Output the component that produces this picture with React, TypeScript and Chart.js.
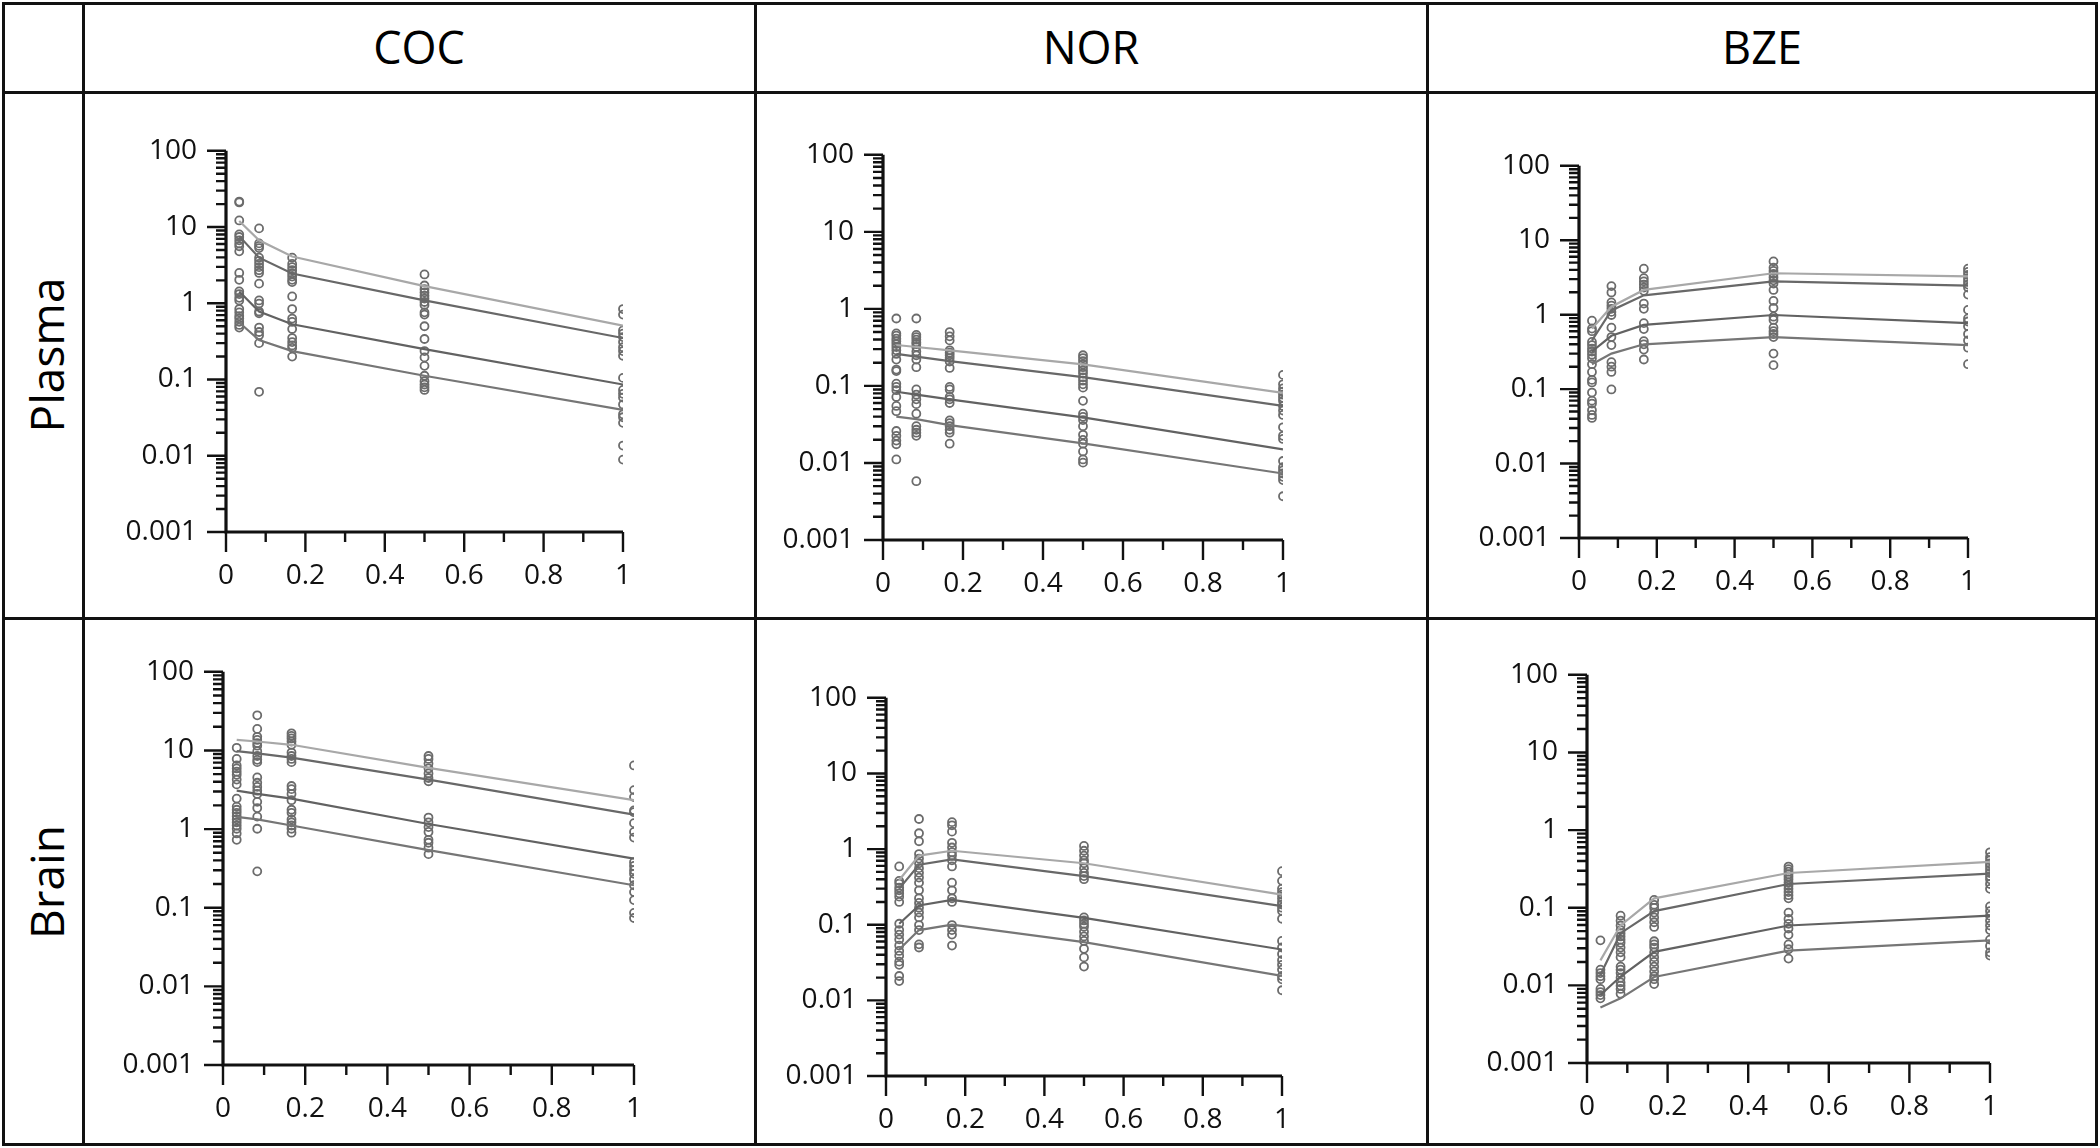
import React, { useEffect, useRef } from "react";
import { Chart, registerables } from "chart.js";
Chart.register(...registerables);

// ---------- data ----------
const TIMES = [2 / 60, 5 / 60, 10 / 60, 30 / 60, 60 / 60];
const X_LABEL_TICKS = [0, 0.2, 0.4, 0.6, 0.8, 1];
const X_MINOR_TICKS = [0.1, 0.3, 0.5, 0.7, 0.9];
const Y_LABEL_TICKS = [0.001, 0.01, 0.1, 1, 10, 100];
const Y_TICK_TEXT = ["0.001", "0.01", "0.1", "1", "10", "100"];
const COLUMN_TITLES = ["COC", "NOR", "BZE"];
const ROW_TITLES = ["Plasma", "Brain"];
const FIT_COLORS = ["#a8a8a8", "#686868", "#626262", "#767676"];

const COC_PLASMA_OBS = [
  [21.6, 21.0, 12.2, 8.0, 7.4, 6.7, 6.1, 5.6, 4.8, 2.5, 2.03, 1.43, 1.32, 1.18, 1.09, 0.84, 0.76, 0.68, 0.63, 0.57, 0.52, 0.48],
  [9.6, 6.1, 5.66, 5.3, 3.97, 3.61, 3.28, 2.98, 2.71, 2.5, 1.81, 1.09, 0.99, 0.78, 0.74, 0.48, 0.42, 0.38, 0.3, 0.069],
  [3.97, 3.28, 2.98, 2.71, 2.46, 2.24, 2.03, 1.9, 1.23, 0.84, 0.63, 0.57, 0.46, 0.35, 0.31, 0.28, 0.26, 0.2],
  [2.39, 1.71, 1.53, 1.39, 1.26, 1.15, 1.04, 0.95, 0.76, 0.71, 0.5, 0.34, 0.236, 0.195, 0.151, 0.112, 0.095, 0.086, 0.079, 0.073],
  [0.84, 0.71, 0.44, 0.4, 0.36, 0.31, 0.265, 0.236, 0.205, 0.105, 0.073, 0.065, 0.058, 0.047, 0.035, 0.032, 0.027, 0.0136, 0.0089],
];
const COC_PLASMA_FIT = [
  [12.0, 6.7, 4.1, 1.68, 0.51],
  [7.6, 3.97, 2.46, 1.09, 0.35],
  [1.43, 0.78, 0.53, 0.25, 0.086],
  [0.56, 0.33, 0.236, 0.112, 0.04],
];

const NOR_PLASMA_OBS = [
  [0.75, 0.48, 0.45, 0.41, 0.38, 0.35, 0.32, 0.29, 0.26, 0.22, 0.163, 0.156, 0.107, 0.097, 0.088, 0.072, 0.055, 0.047, 0.026, 0.0225, 0.0195, 0.0175, 0.0111],
  [0.75, 0.46, 0.43, 0.4, 0.37, 0.35, 0.32, 0.28, 0.25, 0.22, 0.175, 0.09, 0.077, 0.067, 0.058, 0.0436, 0.03, 0.027, 0.0247, 0.0225, 0.0058],
  [0.5, 0.44, 0.39, 0.29, 0.27, 0.25, 0.23, 0.207, 0.171, 0.097, 0.09, 0.072, 0.067, 0.06, 0.0357, 0.0328, 0.03, 0.027, 0.0247, 0.0178],
  [0.25, 0.23, 0.21, 0.19, 0.175, 0.159, 0.145, 0.129, 0.117, 0.105, 0.095, 0.064, 0.0436, 0.0397, 0.036, 0.03, 0.0232, 0.0199, 0.0178, 0.0141, 0.0111, 0.0101],
  [0.139, 0.105, 0.093, 0.084, 0.077, 0.07, 0.064, 0.055, 0.048, 0.042, 0.029, 0.0225, 0.0205, 0.0106, 0.0088, 0.008, 0.0073, 0.0066, 0.006, 0.0037],
];
const NOR_PLASMA_FIT = [
  [0.34, 0.32, 0.29, 0.19, 0.081],
  [0.26, 0.24, 0.21, 0.13, 0.055],
  [0.084, 0.077, 0.067, 0.039, 0.015],
  [0.04, 0.037, 0.031, 0.018, 0.0073],
];

const BZE_PLASMA_OBS = [
  [0.83, 0.65, 0.6, 0.43, 0.39, 0.35, 0.32, 0.29, 0.26, 0.216, 0.17, 0.133, 0.123, 0.09, 0.07, 0.064, 0.052, 0.045, 0.041],
  [2.42, 1.99, 1.46, 1.32, 1.2, 1.09, 0.99, 0.67, 0.5, 0.39, 0.23, 0.2, 0.17, 0.099],
  [4.15, 3.09, 2.8, 2.54, 2.31, 2.09, 1.41, 1.2, 0.77, 0.64, 0.44, 0.4, 0.34, 0.25],
  [5.2, 4.27, 3.87, 3.52, 3.19, 2.89, 2.62, 2.15, 1.53, 1.23, 0.94, 0.85, 0.67, 0.6, 0.55, 0.5, 0.3, 0.21],
  [4.15, 3.76, 3.41, 3.09, 2.8, 2.54, 2.31, 1.86, 1.16, 0.89, 0.81, 0.7, 0.55, 0.45, 0.36, 0.216],
];
const BZE_PLASMA_FIT = [
  [0.65, 1.28, 2.15, 3.6, 3.28],
  [0.45, 1.14, 1.82, 2.8, 2.45],
  [0.32, 0.52, 0.73, 0.99, 0.77],
  [0.216, 0.3, 0.4, 0.5, 0.39],
];

const COC_BRAIN_OBS = [
  [10.8, 7.8, 6.45, 5.9, 5.37, 4.9, 4.26, 3.7, 2.44, 1.93, 1.76, 1.61, 1.46, 1.33, 1.22, 1.11, 1.01, 0.88, 0.73],
  [28, 18.8, 14.9, 13.6, 12.4, 11.5, 9.8, 8.5, 7.6, 7.1, 4.54, 3.88, 3.44, 3.08, 2.8, 2.22, 1.85, 1.44, 1.01, 0.29],
  [16.5, 15.3, 14.2, 13.0, 11.8, 9.4, 8.5, 7.8, 7.1, 3.53, 3.22, 2.8, 2.33, 1.76, 1.61, 1.33, 1.22, 1.11, 1.01, 0.9],
  [8.5, 7.8, 6.8, 5.9, 5.1, 4.46, 4.06, 1.4, 1.22, 1.06, 0.92, 0.73, 0.67, 0.58, 0.48],
  [6.45, 3.13, 2.55, 1.73, 1.64, 1.19, 0.92, 0.78, 0.38, 0.34, 0.3, 0.27, 0.23, 0.193, 0.158, 0.125, 0.086, 0.074],
];
const COC_BRAIN_FIT = [
  [13.6, 13.0, 11.8, 6.0, 2.33],
  [9.8, 9.2, 8.1, 4.26, 1.53],
  [3.08, 2.8, 2.44, 1.16, 0.42],
  [1.43, 1.33, 1.11, 0.54, 0.193],
];

const NOR_BRAIN_OBS = [
  [0.59, 0.38, 0.35, 0.31, 0.285, 0.26, 0.235, 0.2, 0.103, 0.085, 0.074, 0.064, 0.053, 0.045, 0.039, 0.0325, 0.0295, 0.021, 0.018],
  [2.5, 1.62, 1.27, 0.86, 0.75, 0.65, 0.56, 0.485, 0.42, 0.36, 0.285, 0.224, 0.194, 0.168, 0.145, 0.125, 0.099, 0.085, 0.055, 0.05],
  [2.27, 2.06, 1.7, 1.21, 1.05, 0.91, 0.82, 0.71, 0.59, 0.36, 0.285, 0.224, 0.2, 0.099, 0.085, 0.074, 0.053],
  [1.1, 0.95, 0.82, 0.71, 0.65, 0.56, 0.485, 0.44, 0.4, 0.125, 0.114, 0.103, 0.094, 0.081, 0.07, 0.061, 0.048, 0.037, 0.028],
  [0.51, 0.38, 0.3, 0.27, 0.25, 0.224, 0.2, 0.185, 0.168, 0.152, 0.12, 0.061, 0.05, 0.041, 0.034, 0.0295, 0.0255, 0.021, 0.019, 0.0136],
];
const NOR_BRAIN_FIT = [
  [0.39, 0.82, 0.95, 0.65, 0.25],
  [0.3, 0.62, 0.73, 0.44, 0.176],
  [0.103, 0.18, 0.213, 0.123, 0.047],
  [0.047, 0.085, 0.1, 0.059, 0.021],
];

const BZE_BRAIN_OBS = [
  [0.038, 0.0159, 0.0144, 0.0131, 0.012, 0.009, 0.0082, 0.0075, 0.0068],
  [0.079, 0.068, 0.059, 0.0515, 0.047, 0.0427, 0.0388, 0.0353, 0.0307, 0.0266, 0.0231, 0.0174, 0.0159, 0.0144, 0.0125, 0.0109, 0.0099, 0.009, 0.0078],
  [0.126, 0.109, 0.0995, 0.0865, 0.075, 0.065, 0.0566, 0.037, 0.0337, 0.0307, 0.0266, 0.0231, 0.0201, 0.0174, 0.0151, 0.0131, 0.012, 0.0104],
  [0.339, 0.314, 0.291, 0.27, 0.25, 0.232, 0.211, 0.192, 0.175, 0.159, 0.145, 0.132, 0.0865, 0.0716, 0.062, 0.054, 0.0447, 0.0337, 0.0292, 0.0221],
  [0.517, 0.449, 0.409, 0.372, 0.339, 0.308, 0.28, 0.255, 0.232, 0.202, 0.175, 0.104, 0.0906, 0.079, 0.068, 0.059, 0.0515, 0.0388, 0.0322, 0.0266, 0.0242],
];
const BZE_BRAIN_FIT = [
  [0.021, 0.059, 0.132, 0.28, 0.39],
  [0.0137, 0.047, 0.0906, 0.202, 0.275],
  [0.0075, 0.013, 0.027, 0.059, 0.079],
  [0.0052, 0.0068, 0.0128, 0.028, 0.038],
];

// ---------- layout ----------
const PAGE_W = 2100;
const PAGE_H = 1148;
const LINE = 3;
const COL_LINES = [83, 755, 1427];
const ROW_LINES = [92, 618];
const YW = 110; // reserved width for y labels
const XH = 80; // reserved height for x labels
const PT = 26;
const PR = 30;
const FONT = "'Open Sans', 'Noto Sans', sans-serif";

const PANELS = [
  { box: { left: 226, right: 628, top: 131, bottom: 532 }, obs: COC_PLASMA_OBS, fit: COC_PLASMA_FIT },
  { box: { left: 883, right: 1288, top: 135, bottom: 540 }, obs: NOR_PLASMA_OBS, fit: NOR_PLASMA_FIT },
  { box: { left: 1579, right: 1973, top: 146, bottom: 538 }, obs: BZE_PLASMA_OBS, fit: BZE_PLASMA_FIT },
  { box: { left: 223, right: 639, top: 652, bottom: 1065 }, obs: COC_BRAIN_OBS, fit: COC_BRAIN_FIT },
  { box: { left: 886, right: 1287, top: 678, bottom: 1076 }, obs: NOR_BRAIN_OBS, fit: NOR_BRAIN_FIT },
  { box: { left: 1587, right: 1995, top: 655, bottom: 1063 }, obs: BZE_BRAIN_OBS, fit: BZE_BRAIN_FIT },
];

const axisPlugin = {
  id: "pkAxes",
  afterDraw(chart: any) {
    const { ctx, chartArea: a } = chart;
    const xs = chart.scales.x;
    const ys = chart.scales.y;
    ctx.save();
    ctx.strokeStyle = "#111";
    ctx.lineCap = "butt";
    ctx.lineWidth = 2.4;
    ctx.beginPath();
    for (let i = 0; i < Y_LABEL_TICKS.length; i++) {
      const base = Y_LABEL_TICKS[i];
      const py = ys.getPixelForValue(base);
      ctx.moveTo(a.left - 19, py);
      ctx.lineTo(a.left, py);
      if (i < Y_LABEL_TICKS.length - 1) {
        for (let m = 2; m <= 9; m++) {
          const p = ys.getPixelForValue(base * m);
          ctx.moveTo(a.left - 10, p);
          ctx.lineTo(a.left, p);
        }
      }
    }
    for (const v of X_LABEL_TICKS) {
      const px = xs.getPixelForValue(v);
      ctx.moveTo(px, a.bottom);
      ctx.lineTo(px, a.bottom + 20);
    }
    for (const v of X_MINOR_TICKS) {
      const px = xs.getPixelForValue(v);
      ctx.moveTo(px, a.bottom);
      ctx.lineTo(px, a.bottom + 10);
    }
    ctx.stroke();
    ctx.lineWidth = 3.2;
    ctx.beginPath();
    ctx.moveTo(a.left, ys.getPixelForValue(100));
    ctx.lineTo(a.left, a.bottom);
    ctx.lineTo(xs.getPixelForValue(1), a.bottom);
    ctx.stroke();
    ctx.restore();
  },
};

function Panel({ box, obs, fit }: any) {
  const ref = useRef<HTMLCanvasElement>(null);
  const W = YW + (box.right - box.left) + PR;
  const H = PT + (box.bottom - box.top) + XH;
  useEffect(() => {
    if (!ref.current) return;
    const datasets: any[] = fit.map((f: number[], i: number) => ({
      data: TIMES.map((t, j) => ({ x: t, y: f[j] })),
      showLine: true,
      borderColor: FIT_COLORS[i],
      borderWidth: 2.2,
      pointRadius: 0,
      tension: 0,
      fill: false,
    }));
    datasets.push({
      data: obs.flatMap((col: number[], j: number) => col.map((v) => ({ x: TIMES[j], y: v }))),
      showLine: false,
      pointRadius: 4,
      pointBorderWidth: 1.8,
      borderColor: "#6c6c6c",
      backgroundColor: "rgba(0,0,0,0)",
      pointStyle: "circle",
    });
    const tickFont = { family: FONT, size: 28 };
    const chart = new Chart(ref.current, {
      type: "scatter",
      data: { datasets },
      plugins: [axisPlugin],
      options: {
        animation: false,
        responsive: false,
        devicePixelRatio: 1,
        events: [],
        layout: { padding: { left: 0, top: PT, right: PR, bottom: 0 } },
        plugins: { legend: { display: false }, tooltip: { enabled: false } },
        scales: {
          x: {
            type: "linear",
            min: 0,
            max: 1,
            afterBuildTicks: (s: any) => {
              s.ticks = X_LABEL_TICKS.map((v) => ({ value: v }));
            },
            afterFit: (s: any) => {
              s.height = XH;
            },
            grid: { display: false, drawTicks: false },
            border: { display: false },
            ticks: {
              autoSkip: false,
              maxRotation: 0,
              padding: 27,
              color: "#111",
              font: tickFont,
              callback: (v: any) => String(v),
            },
          },
          y: {
            type: "logarithmic",
            min: 0.001,
            max: 100,
            afterBuildTicks: (s: any) => {
              s.ticks = Y_LABEL_TICKS.map((v) => ({ value: v }));
            },
            afterFit: (s: any) => {
              s.width = YW;
            },
            grid: { display: false, drawTicks: false },
            border: { display: false },
            ticks: {
              autoSkip: false,
              padding: 29,
              color: "#111",
              font: tickFont,
              callback: (v: any) => {
                let best = 0;
                for (let i = 0; i < Y_LABEL_TICKS.length; i++) {
                  if (Math.abs(Math.log10(Y_LABEL_TICKS[i]) - Math.log10(v)) < Math.abs(Math.log10(Y_LABEL_TICKS[best]) - Math.log10(v))) best = i;
                }
                return Y_TICK_TEXT[best];
              },
            },
          },
        },
      } as any,
    });
    return () => chart.destroy();
  }, []);
  return (
    <canvas
      ref={ref}
      width={W}
      height={H}
      style={{ position: "absolute", left: box.left - YW, top: box.top - PT, width: W, height: H }}
    />
  );
}

export default function App() {
  const lineStyle = (s: any) => ({ position: "absolute" as const, background: "#111", ...s });
  const colCenters = [
    (COL_LINES[0] + COL_LINES[1]) / 2,
    (COL_LINES[1] + COL_LINES[2]) / 2,
    (COL_LINES[2] + PAGE_W - 3) / 2,
  ];
  const rowCenters = [(ROW_LINES[0] + ROW_LINES[1]) / 2, (ROW_LINES[1] + PAGE_H - 3) / 2];
  return (
    <div style={{ position: "absolute", left: 0, top: 0, width: PAGE_W, height: PAGE_H, background: "#fff", overflow: "hidden", fontFamily: FONT }}>
      <div style={lineStyle({ left: 2, top: 2, width: PAGE_W - 4, height: LINE })} />
      <div style={lineStyle({ left: 2, top: PAGE_H - 5, width: PAGE_W - 4, height: LINE })} />
      <div style={lineStyle({ left: 2, top: 2, width: LINE, height: PAGE_H - 4 })} />
      <div style={lineStyle({ left: PAGE_W - 5, top: 2, width: LINE, height: PAGE_H - 4 })} />
      {ROW_LINES.map((y) => (
        <div key={"r" + y} style={lineStyle({ left: 2, top: y - 1, width: PAGE_W - 4, height: LINE })} />
      ))}
      {COL_LINES.map((x) => (
        <div key={"c" + x} style={lineStyle({ left: x - 1, top: 2, width: LINE, height: PAGE_H - 4 })} />
      ))}
      {COLUMN_TITLES.map((t, i) => (
        <div
          key={t}
          style={{ position: "absolute", left: colCenters[i] - 200, top: 47 - 30, width: 400, height: 60, lineHeight: "60px", textAlign: "center", fontSize: 45, color: "#000" }}
        >
          {t}
        </div>
      ))}
      {ROW_TITLES.map((t, i) => (
        <div
          key={t}
          style={{
            position: "absolute",
            left: 46 - 150,
            top: rowCenters[i] - 30,
            width: 300,
            height: 60,
            lineHeight: "60px",
            textAlign: "center",
            fontSize: 46,
            color: "#000",
            transform: "rotate(-90deg)",
          }}
        >
          {t}
        </div>
      ))}
      {PANELS.map((p, i) => (
        <Panel key={i} box={p.box} obs={p.obs} fit={p.fit} />
      ))}
    </div>
  );
}
